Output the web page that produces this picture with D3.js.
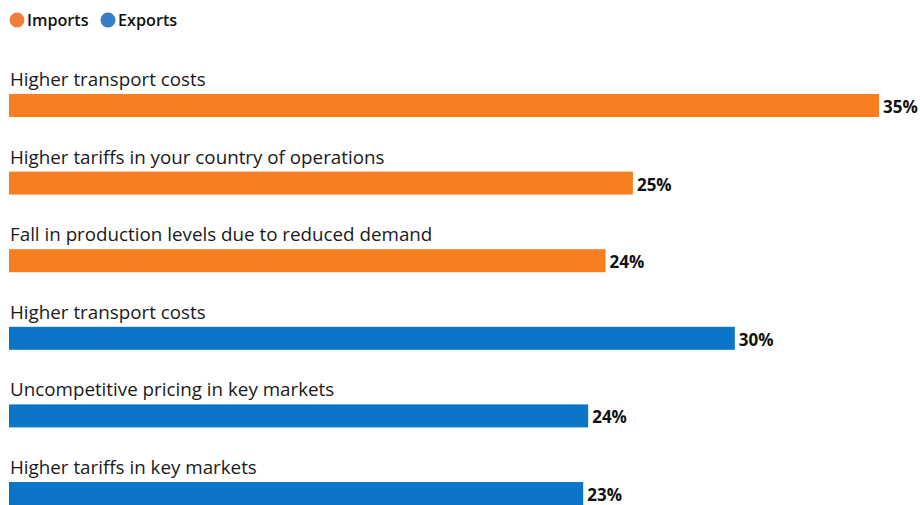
<!DOCTYPE html>
<html>
<head>
<meta charset="utf-8">
<script src="https://cdn.jsdelivr.net/npm/d3@7"></script>
<style>
  body { margin: 0; background: #fff; }
  svg { display: block; font-family: "Open Sans", "Noto Sans", sans-serif; }
</style>
</head>
<body>
<div id="chart"></div>
<script>
// data
const categories = [
  "Higher transport costs",
  "Higher tariffs in your country of operations",
  "Fall in production levels due to reduced demand",
  "Higher transport costs",
  "Uncompetitive pricing in key markets",
  "Higher tariffs in key markets"
];
const groups = ["Imports", "Imports", "Imports", "Exports", "Exports", "Exports"];
const values = [35, 25.1, 24.0, 29.2, 23.3, 23.1];
const valueLabels = ["35%", "25%", "24%", "30%", "24%", "23%"];
const legendNames = ["Imports", "Exports"];

const width = 920, height = 505;
const margin = {top: 94, left: 9, right: 41};

const barColor = d3.scaleOrdinal().domain(legendNames).range(["#f87e22", "#0b76c8"]);
const dotColor = d3.scaleOrdinal().domain(legendNames).range(["#ef7f3a", "#3a7cc8"]);

const svg = d3.select("#chart")
  .append("svg")
    .attr("width", width)
    .attr("height", height);

// x scale
const x = d3.scaleLinear()
  .domain([0, 35])
  .range([margin.left, width - margin.right]);

// y scale, one position per row (bar top)
const y = d3.scalePoint()
  .domain(d3.range(categories.length))
  .range([margin.top, 482]);

const barH = 23;

const rows = svg.selectAll("g.row")
  .data(categories)
  .enter().append("g")
    .attr("class", "row");

rows.append("text")
  .attr("x", 10)
  .attr("y", (d, i) => y(i) - 8)
  .attr("font-size", "18.8px")
  .attr("fill", "#1a1a1a")
  .text(d => d);

rows.append("rect")
  .attr("x", x(0))
  .attr("y", (d, i) => y(i))
  .attr("height", barH)
  .attr("width", (d, i) => x(values[i]) - x(0))
  .attr("fill", (d, i) => barColor(groups[i]));

rows.append("text")
  .attr("x", (d, i) => x(values[i]) + 4)
  .attr("y", (d, i) => y(i) + 19)
  .attr("font-size", "17px")
  .attr("font-weight", "bold")
  .attr("fill", "#111")
  .text((d, i) => valueLabels[i]);

// legend
const legend = svg.append("g");
const legendX = [17, 108];
legend.selectAll("circle")
  .data(legendNames)
  .enter().append("circle")
    .attr("cx", (d, i) => legendX[i])
    .attr("cy", 20)
    .attr("r", 7.5)
    .attr("fill", d => dotColor(d));
legend.selectAll("text")
  .data(legendNames)
  .enter().append("text")
    .attr("x", (d, i) => legendX[i] + 10)
    .attr("y", 26)
    .attr("font-size", "16.2px")
    .attr("font-weight", 600)
    .attr("fill", "#111")
    .text(d => d);
</script>
</body>
</html>
